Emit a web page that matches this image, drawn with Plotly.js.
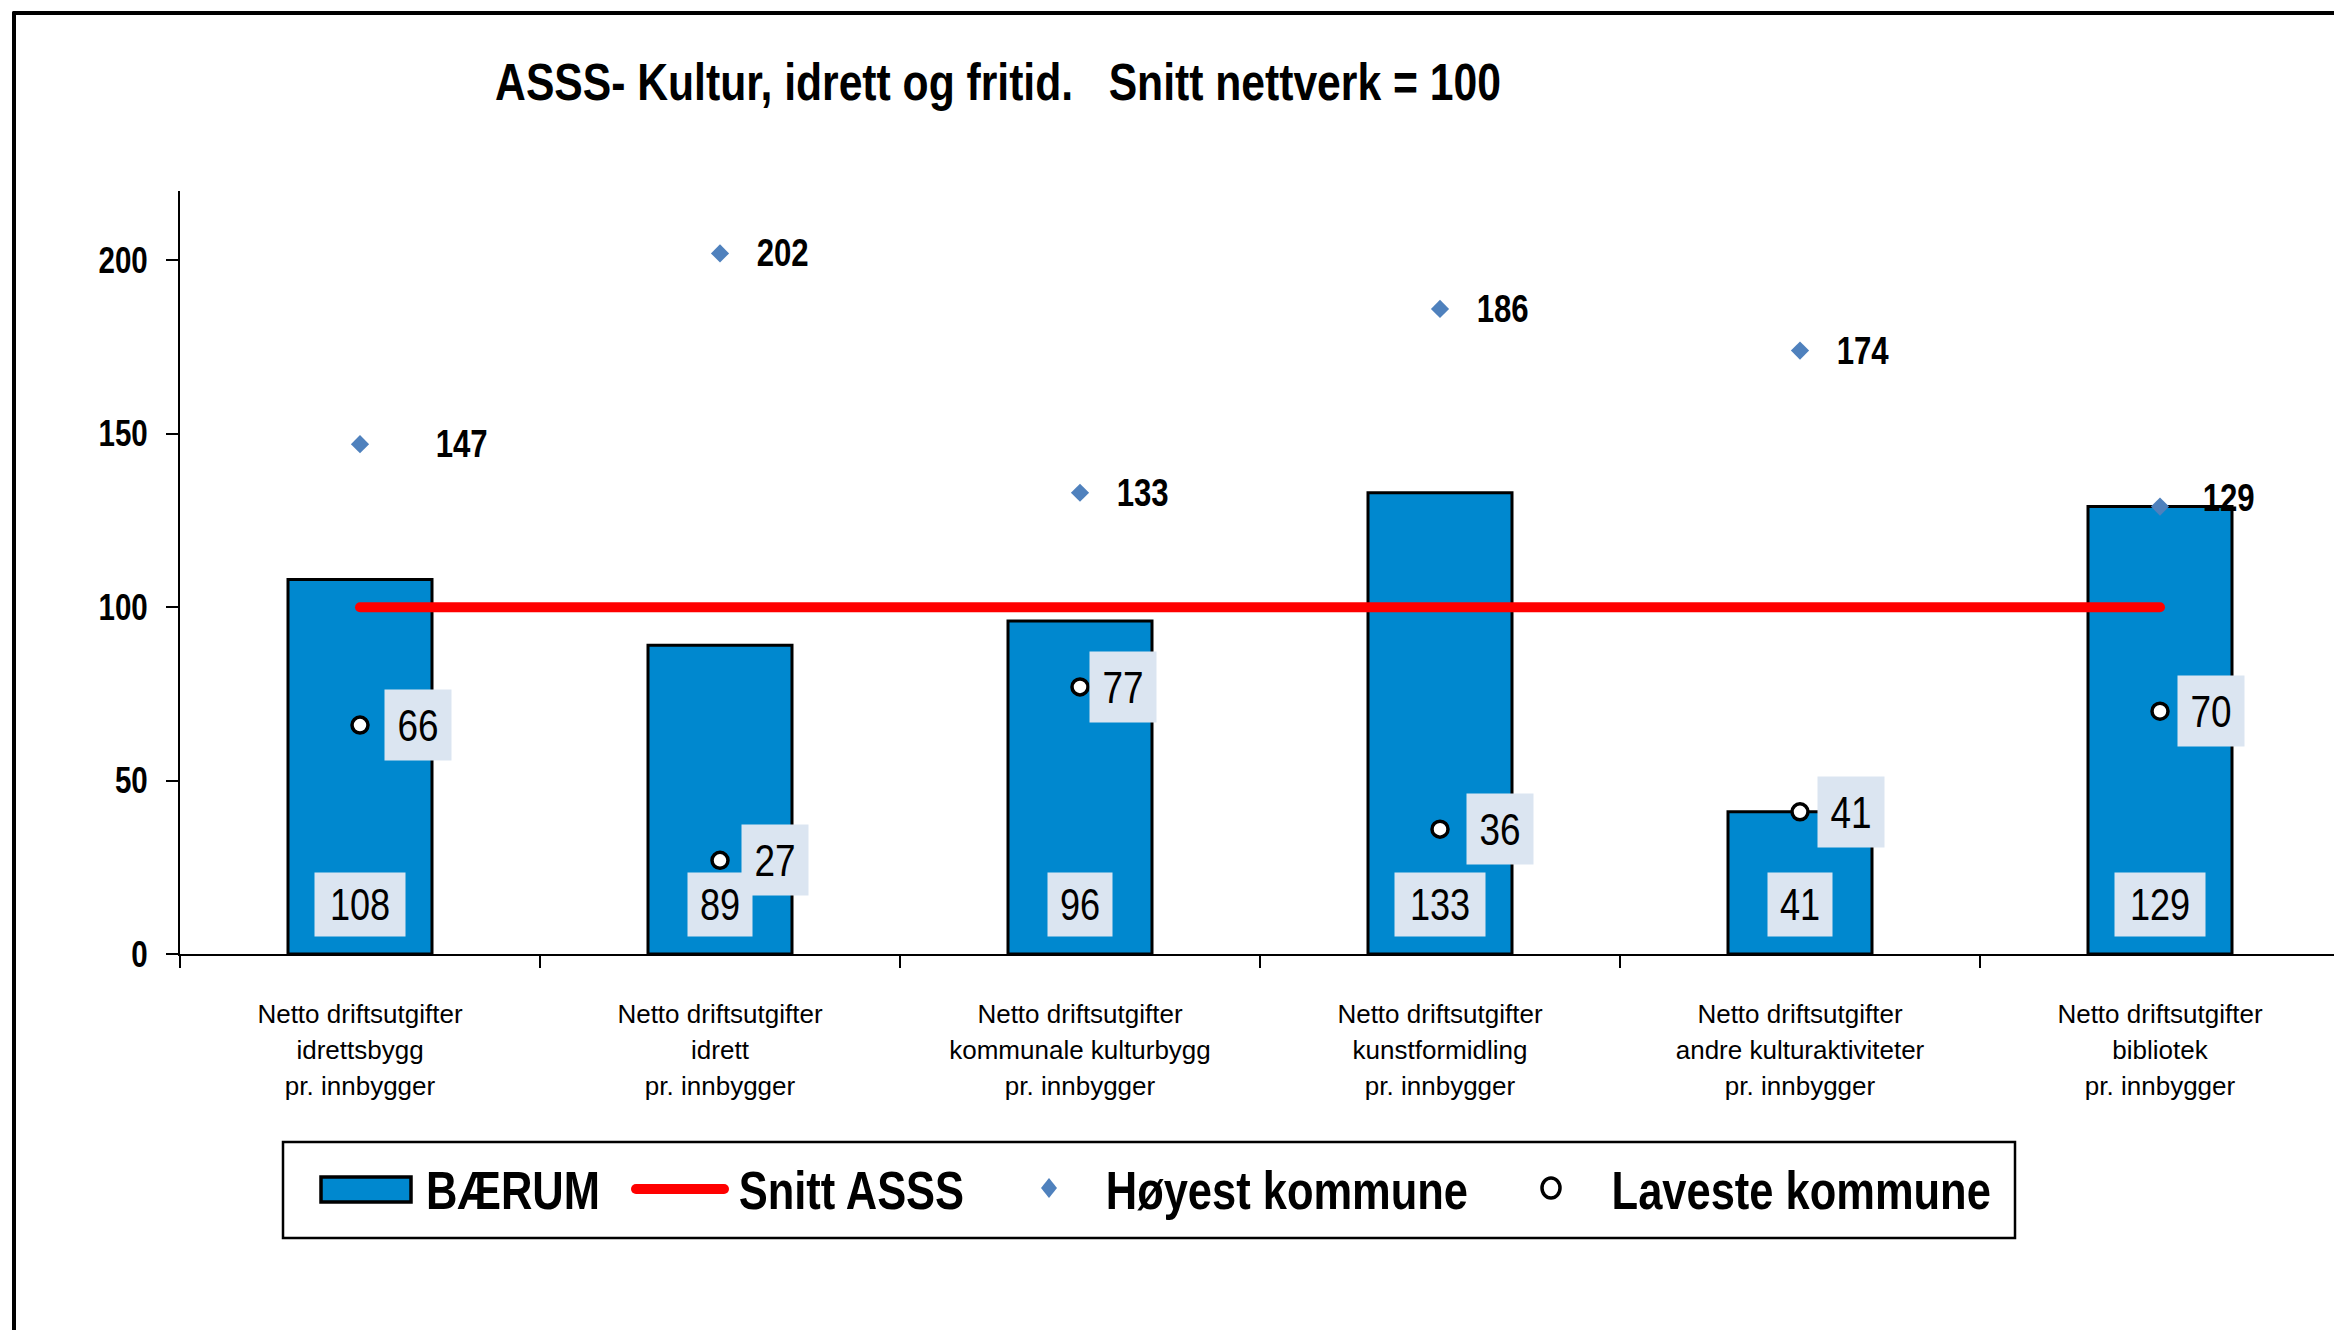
<!DOCTYPE html>
<html>
<head>
<meta charset="utf-8">
<script src="https://cdn.plot.ly/plotly-3.0.1.min.js"></script>
<style>
  html, body { margin: 0; padding: 0; background: #ffffff; }
  #chart { width: 2334px; height: 1330px; }
  .js-line { stroke-linecap: round; }
  .shapelayer path { stroke-linecap: round; }
</style>
</head>
<body>
<div id="chart"></div>
<script>
// ---------------- DATA ----------------
const categories = [
  'Netto driftsutgifter<br>idrettsbygg<br>pr. innbygger',
  'Netto driftsutgifter<br>idrett<br>pr. innbygger',
  'Netto driftsutgifter<br>kommunale kulturbygg<br>pr. innbygger',
  'Netto driftsutgifter<br>kunstformidling<br>pr. innbygger',
  'Netto driftsutgifter<br>andre kulturaktiviteter<br>pr. innbygger',
  'Netto driftsutgifter<br>bibliotek<br>pr. innbygger'
];
const baerum    = [108, 89, 96, 133, 41, 129];
const snittASSS = [100, 100, 100, 100, 100, 100];
const hoyest    = [147, 202, 133, 186, 174, 129];
const laveste   = [66, 27, 77, 36, 41, 70];
const yTickVals = [0, 50, 100, 150, 200];
const seriesNames = ['BÆRUM', 'Snitt ASSS', 'Høyest kommune', 'Laveste kommune'];
const titleText = 'ASSS- Kultur, idrett og fritid.   Snitt nettverk = 100';

// ---------------- STYLE / LAYOUT ----------------
const W = 2334, H = 1330;
const ML = 180, MR = 0, MT = 191, MB = 376;
const plotW = W - ML - MR, plotH = H - MT - MB;
const px = v => (v - ML) / plotW;          // pixel -> paper x
const py = v => (H - MB - v) / plotH;      // pixel -> paper y

const REG = '"Liberation Sans", Arial, sans-serif';
const NARROW_FACTOR = 0.82;                // emulate Arial Narrow
const BAR_COLOR = '#0088cf';
const BOX_COLOR = '#dbe5f1';
const DIAMOND_COLOR = '#4f81bd';

const highShiftX = [101, 62, 62, 62, 62, 68];
const highShiftY = [0, 0, 0, 0, 0, 9];
const lowShiftX  = [58, 55, 43, 60, 51, 51];

const tickText = categories.map(c => c.split('<br>').map(l => `<span style="font-size:26px">${l}</span>`).join('<br>'));

const traces = [
  {
    type: 'bar', name: seriesNames[0], x: categories, y: baerum, width: 0.4,
    marker: { color: BAR_COLOR, line: { color: '#000000', width: 3 } },
    showlegend: false, hoverinfo: 'y'
  },
  {
    type: 'scatter', mode: 'lines', name: seriesNames[1], x: categories, y: snittASSS,
    line: { color: '#ff0000', width: 10 }, showlegend: false, hoverinfo: 'y'
  },
  {
    type: 'scatter', mode: 'markers', name: seriesNames[2], x: categories, y: hoyest,
    marker: { symbol: 'diamond', size: 14, color: DIAMOND_COLOR }, showlegend: false, hoverinfo: 'y'
  },
  {
    type: 'scatter', mode: 'markers', name: seriesNames[3], x: categories, y: laveste,
    marker: { symbol: 'circle', size: 16, color: '#ffffff', line: { color: '#000000', width: 3.5 } },
    showlegend: false, hoverinfo: 'y'
  }
];

const annotations = [];
// lowest-value labels (boxed)
laveste.forEach((v, i) => {
  annotations.push({
    x: categories[i], y: v, xref: 'x', yref: 'y', text: String(v), showarrow: false,
    xshift: lowShiftX[i], xanchor: 'center', yanchor: 'middle',
    bgcolor: BOX_COLOR, width: 64, height: 68,
    font: { family: REG, size: 45, color: '#000000' }
  });
});
// bar value labels (boxed, at bottom of bar)
baerum.forEach((v, i) => {
  annotations.push({
    x: categories[i], y: 0, xref: 'x', yref: 'y', text: String(v), showarrow: false,
    yshift: 50, xanchor: 'center', yanchor: 'middle',
    bgcolor: BOX_COLOR, width: String(v).length * 26 + 10, height: 61,
    font: { family: REG, size: 44, color: '#000000' }
  });
});
// highest-value labels
hoyest.forEach((v, i) => {
  annotations.push({
    x: categories[i], y: v, xref: 'x', yref: 'y', text: String(v), showarrow: false,
    xshift: highShiftX[i], yshift: highShiftY[i], xanchor: 'center', yanchor: 'middle',
    font: { family: REG, size: 38, weight: 'bold', color: '#000000' }
  });
});

// custom legend
const legendFont = { family: REG, size: 53, weight: 'bold', color: '#000000' };
const legY = 1190;
[[513, seriesNames[0]], [851, seriesNames[1]], [1287, seriesNames[2]], [1801, seriesNames[3]]].forEach(([xp, t]) => {
  annotations.push({
    x: px(xp), y: py(legY), xref: 'paper', yref: 'paper', text: t, showarrow: false,
    xanchor: 'center', yanchor: 'middle', font: legendFont
  });
});

const dX = 1049, dY = 1188, dR = 10;
const shapes = [
  // outer frame (left & top)
  { type: 'line', xref: 'paper', yref: 'paper', x0: px(14), x1: px(14), y0: py(13), y1: py(1345), line: { color: '#000000', width: 4 } },
  { type: 'line', xref: 'paper', yref: 'paper', x0: px(14), x1: px(2345), y0: py(13), y1: py(13), line: { color: '#000000', width: 4 } },
  // legend box
  { type: 'rect', xref: 'paper', yref: 'paper', x0: px(283), x1: px(2015), y0: py(1238), y1: py(1142), line: { color: '#000000', width: 2.5 }, fillcolor: 'rgba(0,0,0,0)' },
  // legend bar swatch
  { type: 'rect', xref: 'paper', yref: 'paper', x0: px(321), x1: px(411), y0: py(1202), y1: py(1177), line: { color: '#000000', width: 3.5 }, fillcolor: BAR_COLOR },
  // legend red line
  { type: 'line', xref: 'paper', yref: 'paper', x0: px(636), x1: px(724), y0: py(1189), y1: py(1189), line: { color: '#ff0000', width: 10 } },
  // legend diamond
  { type: 'path', xref: 'paper', yref: 'paper',
    path: `M${px(dX)},${py(dY - dR)} L${px(dX + dR * 0.8)},${py(dY)} L${px(dX)},${py(dY + dR)} L${px(dX - dR * 0.8)},${py(dY)} Z`,
    fillcolor: DIAMOND_COLOR, line: { width: 0 } },
  // legend circle
  { type: 'circle', xref: 'paper', yref: 'paper', x0: px(1542), x1: px(1560), y0: py(1198), y1: py(1178), fillcolor: '#ffffff', line: { color: '#000000', width: 3.5 } }
];

const layout = {
  width: W, height: H,
  paper_bgcolor: '#ffffff', plot_bgcolor: '#ffffff',
  margin: { l: ML, r: MR, t: MT, b: MB, pad: 0 },
  showlegend: false,
  title: {
    text: titleText, xref: 'container', yref: 'container',
    x: 998 / W, xanchor: 'center', y: 1 - 82 / H, yanchor: 'middle',
    font: { family: REG, size: 52, weight: 'bold', color: '#000000' }
  },
  xaxis: {
    type: 'category', range: [-0.5, -0.5 + plotW / 360],
    tickmode: 'array', tickvals: categories, ticktext: tickText,
    showline: true, linecolor: '#000000', linewidth: 2,
    ticks: 'outside', tickson: 'boundaries', ticklen: 12, tickwidth: 2, tickcolor: '#000000',
    showgrid: false, zeroline: false, ticklabelstandoff: 33,
    tickfont: { family: REG, size: 28, color: '#000000' }
  },
  yaxis: {
    range: [0, 220], tickvals: yTickVals, ticktext: yTickVals.map(String),
    showline: true, linecolor: '#000000', linewidth: 2,
    ticks: 'outside', ticklen: 12, tickwidth: 2, tickcolor: '#000000',
    showgrid: false, zeroline: false, ticklabelstandoff: 11,
    tickfont: { family: REG, size: 36, weight: 'bold', color: '#000000' }
  },
  annotations: annotations,
  shapes: shapes
};

// squeeze selected texts horizontally (narrow typeface look), keeping them real text
function squeeze(root, selector, factor) {
  root.querySelectorAll(selector).forEach(t => {
    const w = t.getComputedTextLength();
    if (w > 0) {
      t.setAttribute('textLength', (w * factor).toFixed(2));
      t.setAttribute('lengthAdjust', 'spacingAndGlyphs');
    }
  });
}

Plotly.newPlot('chart', traces, layout, { displayModeBar: false, staticPlot: true }).then(gd => {
  squeeze(gd, '.gtitle', NARROW_FACTOR);
  squeeze(gd, '.annotation-text', NARROW_FACTOR);
  squeeze(gd, '.ytick text', NARROW_FACTOR);
});
</script>
</body>
</html>
